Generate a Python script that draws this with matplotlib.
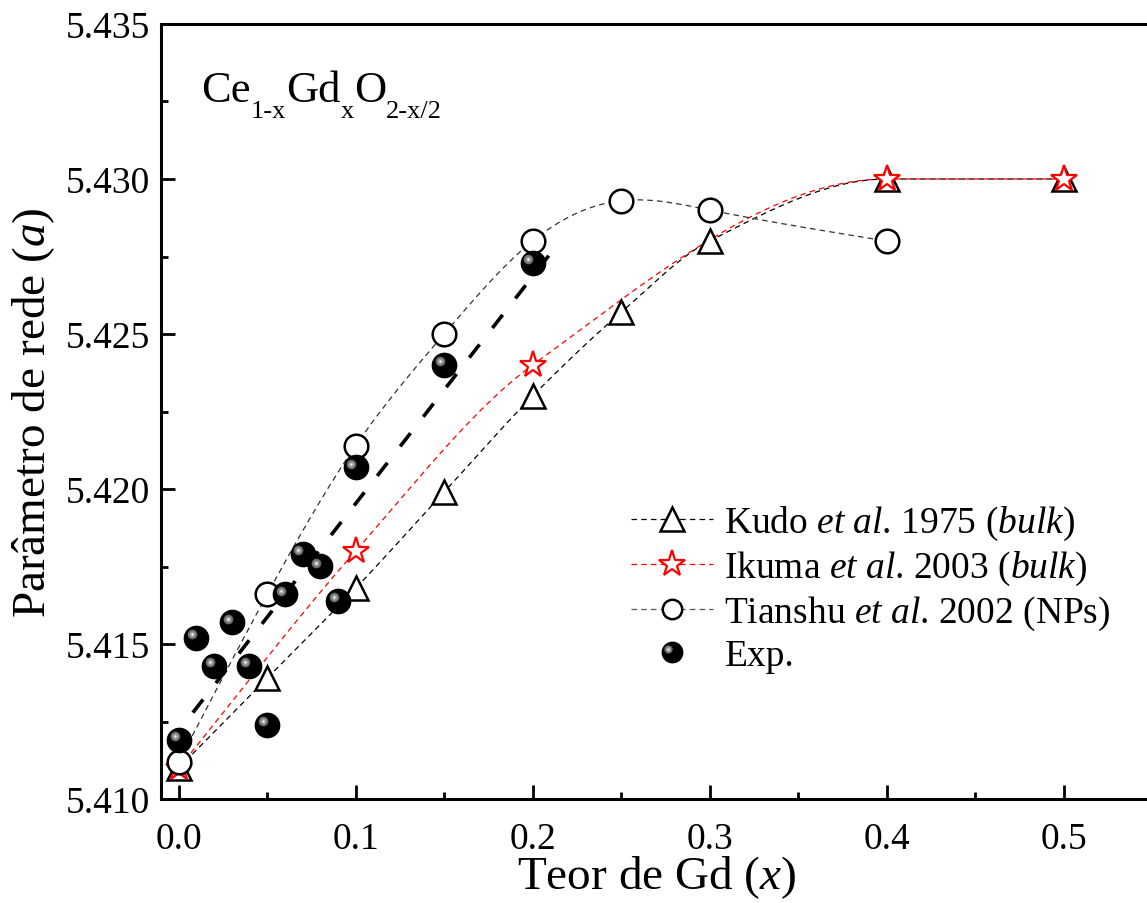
import numpy as np
import matplotlib
matplotlib.use("Agg")
import matplotlib.pyplot as plt
from matplotlib.lines import Line2D
from matplotlib.legend_handler import HandlerBase
from matplotlib.transforms import offset_copy
from matplotlib.ticker import MultipleLocator, FormatStrFormatter

plt.rcParams['font.family'] = ['Liberation Serif', 'DejaVu Serif']
plt.rcParams['mathtext.fontset'] = 'custom'
plt.rcParams['mathtext.rm'] = 'Liberation Serif'
plt.rcParams['mathtext.it'] = 'Liberation Serif:italic'
plt.rcParams['lines.scale_dashes'] = False

# ---- data: lattice parameter vs Gd content ----
kudo_x = [0.0, 0.05, 0.10, 0.15, 0.20, 0.25, 0.30, 0.40, 0.50]
kudo_a = [5.4110, 5.4139, 5.4168, 5.4199, 5.4230, 5.4257, 5.4280, 5.4300, 5.4300]

ikuma_x = [0.0, 0.10, 0.20, 0.40, 0.50]
ikuma_a = [5.4110, 5.4180, 5.4240, 5.4300, 5.4300]

tianshu_x = [0.0, 0.05, 0.10, 0.15, 0.20, 0.25, 0.30, 0.40]
tianshu_a = [5.4112, 5.4166, 5.4214, 5.4250, 5.4280, 5.4293, 5.4290, 5.4280]

exp_x = [0.0, 0.01, 0.02, 0.03, 0.04, 0.05, 0.06, 0.07, 0.08, 0.09, 0.10, 0.15, 0.20]
exp_a = [5.4119, 5.4152, 5.4143, 5.4157, 5.4143, 5.4124, 5.4166, 5.4179, 5.4175,
         5.4164, 5.4207, 5.4240, 5.4273]

# linear fit of the experimental points (intercept, slope) and its drawn range
fit_intercept = 5.4122
fit_slope = 0.0733
fit_range = [0.008, 0.211]

legend_labels = [r'Kudo $\it{et\ al}$. 1975 ($\it{bulk}$)',
                 r'Ikuma $\it{et\ al}$. 2003 ($\it{bulk}$)',
                 r'Tianshu $\it{et\ al}$. 2002 (NPs)',
                 'Exp.']

formula_parts = ['Ce', '1-x', 'Gd', 'x', 'O', '2-x/2']
formula_is_sub = [False, True, False, True, False, True]

W, H = 1147, 904


def natural_spline(x, y, xs):
    x = np.asarray(x, float); y = np.asarray(y, float)
    n = len(x); h = np.diff(x)
    A = np.zeros((n, n)); r = np.zeros(n)
    A[0, 0] = A[-1, -1] = 1.0
    for i in range(1, n - 1):
        A[i, i - 1] = h[i - 1]; A[i, i] = 2 * (h[i - 1] + h[i]); A[i, i + 1] = h[i]
        r[i] = 3 * ((y[i + 1] - y[i]) / h[i] - (y[i] - y[i - 1]) / h[i - 1])
    c = np.linalg.solve(A, r)
    b = (y[1:] - y[:-1]) / h - h * (2 * c[:-1] + c[1:]) / 3
    d = (c[1:] - c[:-1]) / (3 * h)
    idx = np.clip(np.searchsorted(x, xs) - 1, 0, n - 2)
    dx = xs - x[idx]
    return y[idx] + b[idx] * dx + c[idx] * dx ** 2 + d[idx] * dx ** 3


def pchip(x, y, xs):
    x = np.asarray(x, float); y = np.asarray(y, float)
    h = np.diff(x); delta = np.diff(y) / h
    n = len(x); m = np.zeros(n)
    for k in range(1, n - 1):
        if delta[k - 1] * delta[k] > 0:
            w1 = 2 * h[k] + h[k - 1]; w2 = h[k] + 2 * h[k - 1]
            m[k] = (w1 + w2) / (w1 / delta[k - 1] + w2 / delta[k])
    m[0] = delta[0]; m[-1] = delta[-1]
    idx = np.clip(np.searchsorted(x, xs) - 1, 0, n - 2)
    t = (xs - x[idx]) / h[idx]
    h00 = 2 * t ** 3 - 3 * t ** 2 + 1; h10 = t ** 3 - 2 * t ** 2 + t
    h01 = -2 * t ** 3 + 3 * t ** 2; h11 = t ** 3 - t ** 2
    return (h00 * y[idx] + h10 * h[idx] * m[idx] + h01 * y[idx + 1]
            + h11 * h[idx] * m[idx + 1])


fig = plt.figure(figsize=(W / 100, H / 100), dpi=100)
ax = fig.add_axes([161 / W, 104 / H, 991 / W, 775 / H])
ax.set_xlim(-0.01, 0.55)
ax.set_ylim(5.410, 5.435)

thin = dict(lw=0.9, dashes=(4, 3))

# smooth connecting curves
xs = np.linspace(kudo_x[0], kudo_x[-1], 400)
ax.plot(xs, pchip(kudo_x, kudo_a, xs), color='black', zorder=2, **thin)
xs = np.linspace(ikuma_x[0], ikuma_x[-1], 400)
ax.plot(xs, pchip(ikuma_x, ikuma_a, xs), color='red', zorder=2, **thin)
xs = np.linspace(tianshu_x[0], tianshu_x[-1], 400)
ax.plot(xs, natural_spline(tianshu_x, tianshu_a, xs), color='#333333', zorder=2, **thin)

# linear fit
fx = np.array(fit_range)
ax.plot(fx, fit_intercept + fit_slope * fx, color='black', lw=2.6,
        dashes=(12, 15), zorder=3)

# literature markers
ax.plot(kudo_x, kudo_a, ls='none', marker='^', ms=17, mfc='white', mec='black',
        mew=1.8, zorder=4)
ax.plot(ikuma_x, ikuma_a, ls='none', marker='*', ms=20, mfc='white', mec='red',
        mew=1.6, zorder=5)
ax.plot(tianshu_x, tianshu_a, ls='none', marker='o', ms=17, mfc='white', mec='black',
        mew=1.8, zorder=6)

# shaded spheres for the experimental points
sphere_layers = [(0.0, 0.0, 18.5, 'black'),
                 (-3.0, 2.6, 7.0, '#6a6a6a'),
                 (-3.0, 2.6, 4.4, '#9c9c9c'),
                 (-3.0, 2.6, 1.8, '#f0f0f0')]
for k, (dx, dy, ms, col) in enumerate(sphere_layers):
    tr = offset_copy(ax.transData, fig=fig, x=dx, y=dy, units='points')
    ax.plot(exp_x, exp_a, ls='none', marker='o', ms=ms, mfc=col, mec='none',
            transform=tr, zorder=7 + k * 0.01)


class SphereHandler(HandlerBase):
    def create_artists(self, legend, orig_handle, xdescent, ydescent,
                       width, height, fontsize, trans):
        cx = 0.5 * width - xdescent
        cy = 0.5 * height - ydescent
        arts = []
        for dx, dy, ms, col in sphere_layers:
            s = 0.85
            arts.append(Line2D([cx + dx * s], [cy + dy * s], ls='none', marker='o',
                               ms=ms * s, mfc=col, mec='none', transform=trans))
        return arts


h_kudo = Line2D([], [], color='black', marker='^', ms=17, mfc='white', mec='black',
                mew=1.8, **thin)
h_ikuma = Line2D([], [], color='red', marker='*', ms=20, mfc='white', mec='red',
                 mew=1.6, **thin)
h_tian = Line2D([], [], color='#555555', marker='o', ms=14, mfc='white', mec='black',
                mew=1.8, **thin)
h_exp = Line2D([], [], ls='none')

ax.legend([h_kudo, h_ikuma, h_tian, h_exp], legend_labels,
          handler_map={h_exp: SphereHandler()},
          loc='upper left', bbox_to_anchor=(0.474, 0.381), borderaxespad=0,
          borderpad=0, frameon=False, fontsize=27, handlelength=2.2,
          handletextpad=0.3, labelspacing=0.18)

# axes styling
for side in ['left', 'bottom', 'top']:
    ax.spines[side].set_linewidth(2.2)
ax.spines['right'].set_visible(False)
ax.xaxis.set_major_locator(MultipleLocator(0.1))
ax.xaxis.set_minor_locator(MultipleLocator(0.05))
ax.yaxis.set_major_locator(MultipleLocator(0.005))
ax.yaxis.set_minor_locator(MultipleLocator(0.0025))
ax.xaxis.set_major_formatter(FormatStrFormatter('%.1f'))
ax.yaxis.set_major_formatter(FormatStrFormatter('%.3f'))
ax.tick_params(which='both', direction='in', width=2.0, top=False, right=False,
               labelsize=27)
ax.tick_params(which='major', length=10)
ax.tick_params(which='minor', length=5)
ax.tick_params(axis='x', pad=16)
ax.tick_params(axis='y', pad=8)

ax.set_xlabel(r'Teor de Gd ($\it{x}$)', fontsize=34, labelpad=-2)
ax.set_ylabel(r'Parâmetro de rede ($\it{a}$)', fontsize=34, labelpad=6)

# chemical formula with subscripts
renderer = fig.canvas.get_renderer()
x_px, base_px = 201, 102
for part, sub in zip(formula_parts, formula_is_sub):
    size = 19 if sub else 32
    yb = base_px + (16 if sub else 0)
    t = fig.text(x_px / W, (H - yb) / H, part, fontsize=size, ha='left', va='baseline')
    x_px += t.get_window_extent(renderer).width

fig.savefig('out.png', dpi=100)
